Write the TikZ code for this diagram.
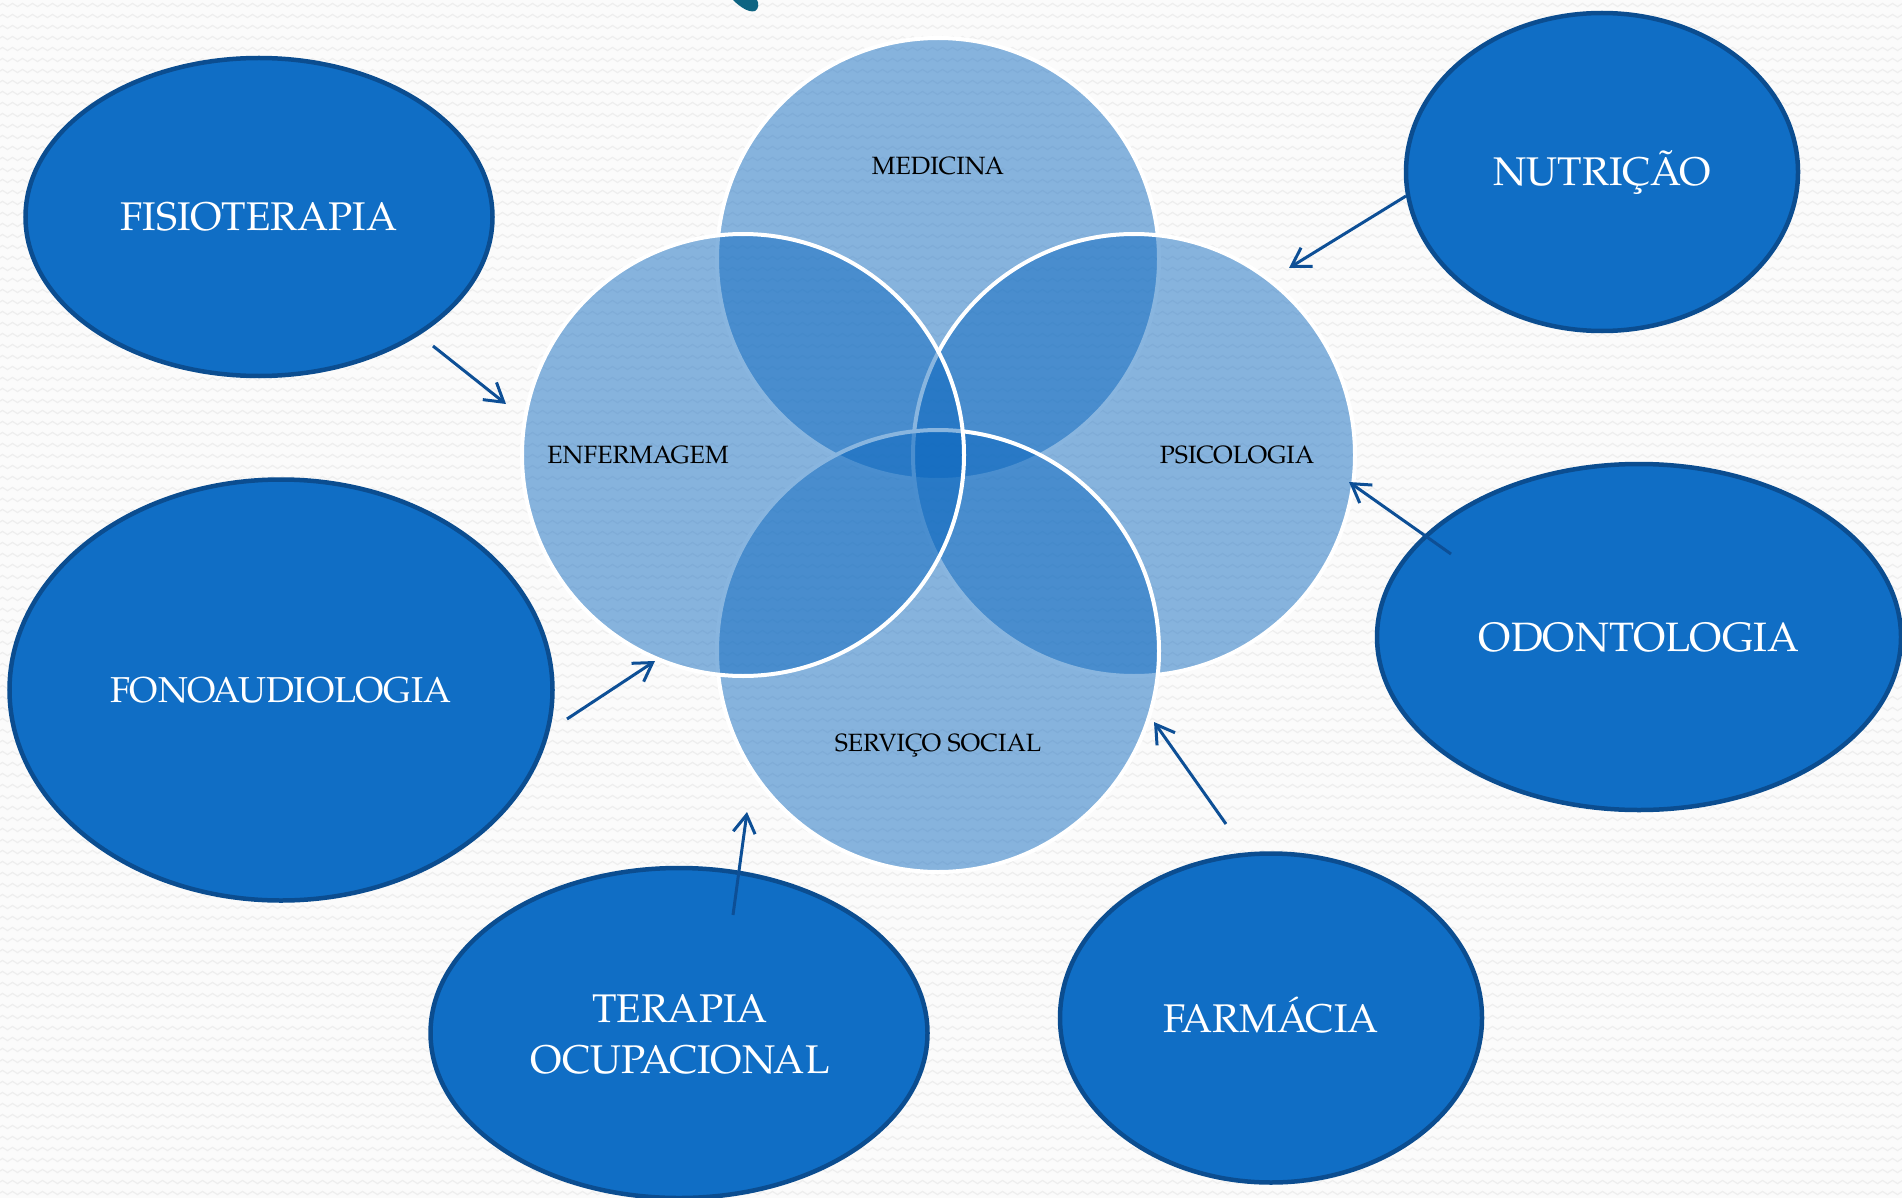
\documentclass[tikz,border=0pt]{standalone}
\usepackage{fontspec}
\setmainfont{TeX Gyre Pagella}
\usetikzlibrary{shapes.geometric,arrows.meta,decorations.pathmorphing}
\definecolor{bgcol}{HTML}{FBFBFB}
\definecolor{zigcol}{HTML}{EEEEEE}
\definecolor{ovalfill}{HTML}{106EC5}
\definecolor{ovaledge}{HTML}{0B4D90}
\definecolor{circfill}{RGB}{7,101,190}
\definecolor{arrowcol}{HTML}{0D4F96}
\definecolor{tealbit}{HTML}{0E6482}
\tikzset{
  oval/.style={ellipse, draw=ovaledge, fill=ovalfill, line width=4.5pt, inner sep=0pt,
    text=white, font=\fontsize{40}{51}\selectfont, text height=28pt, text depth=0pt, align=center},
  venn/.style={circle, draw=white, line width=4pt, fill=circfill, fill opacity=0.48,
    draw opacity=1, minimum size=442pt, inner sep=0pt},
  vlabel/.style={text=black, font=\fontsize{25}{30}\selectfont, inner sep=0pt, text height=17.5pt, text depth=0pt},
  link/.style={draw=arrowcol, line width=3pt, -{Straight Barb[length=18pt,width=22pt,line width=3pt]}}
}
\begin{document}
\begin{tikzpicture}[x=1pt,y=-1pt]
  \fill[bgcol] (0,0) rectangle (1902,1198);
  \useasboundingbox (0,0) rectangle (1902,1198);
  \begin{scope}
    \clip (0,0) rectangle (1902,1198);
    \foreach \r in {0,...,109} {
      \draw[zigcol, line width=1.2pt, decorate, decoration={zigzag, segment length=10pt, amplitude=1.6pt}]
        (-10,\r*11+5) -- (1915,\r*11+5);
    }
  \end{scope}
  % teal fragment at top
  \fill[tealbit] (733,0) .. controls (740,7) and (749,13) .. (755,11) .. controls (759,9) and (759,3) .. (757,0) -- cycle;

  % Venn circles
  \node[venn] (med) at (938,259) {};
  \node[venn] (psi) at (1134,455) {};
  \node[venn] (ser) at (938,651) {};
  \node[venn] (enf) at (743,455) {};
  \node[vlabel] (medl) at (938,166) {MEDICINA};
  \node[vlabel] (enfl) at (638,455) {ENFERMAGEM};
  \node[vlabel] (psil) at (1237,455) {PSICOLOGIA};
  \node[vlabel] (serl) at (938,743) {SERVIÇO SOCIAL};

  % outer ovals
  \node[oval, minimum width=467pt, minimum height=318pt] (fis) at (259,217) {FISIOTERAPIA};
  \node[oval, minimum width=392pt, minimum height=318pt] (nut) at (1602,172) {NUTRIÇÃO};
  \node[oval, minimum width=543pt, minimum height=421pt, font=\fontsize{36}{46}\selectfont, text height=25pt] (fon) at (281,690) {FONOAUDIOLOGIA};
  \node[oval, minimum width=524pt, minimum height=346pt, font=\fontsize{41}{52}\selectfont] (odo) at (1639,637) {ODONTOLOGIA};
  \node[oval, minimum width=497pt, minimum height=330pt] (ter) at (679,1033) {};
  \node[oval, minimum width=422pt, minimum height=329pt] (far) at (1271,1018) {FARMÁCIA};
  \node[text=white, font=\fontsize{40}{51}\selectfont, align=center, inner sep=0pt] (terl) at (680,1034) {TERAPIA\\OCUPACIONAL};

  % arrow ends
  \coordinate (fisA) at (433,346);  \coordinate (fisB) at (506,404);
  \coordinate (nutA) at (1406,196); \coordinate (nutB) at (1289,268);
  \coordinate (odoA) at (1451,554); \coordinate (odoB) at (1349,482);
  \coordinate (farA) at (1226,824); \coordinate (farB) at (1154,722);
  \coordinate (terA) at (733,915);  \coordinate (terB) at (747,812);
  \coordinate (fonA) at (567,719);  \coordinate (fonB) at (655,661);
  \draw[link] (fisA) -- (fisB);
  \draw[link] (nutA) -- (nutB);
  \draw[link] (odoA) -- (odoB);
  \draw[link] (farA) -- (farB);
  \draw[link] (terA) -- (terB);
  \draw[link] (fonA) -- (fonB);
\end{tikzpicture}
\end{document}
